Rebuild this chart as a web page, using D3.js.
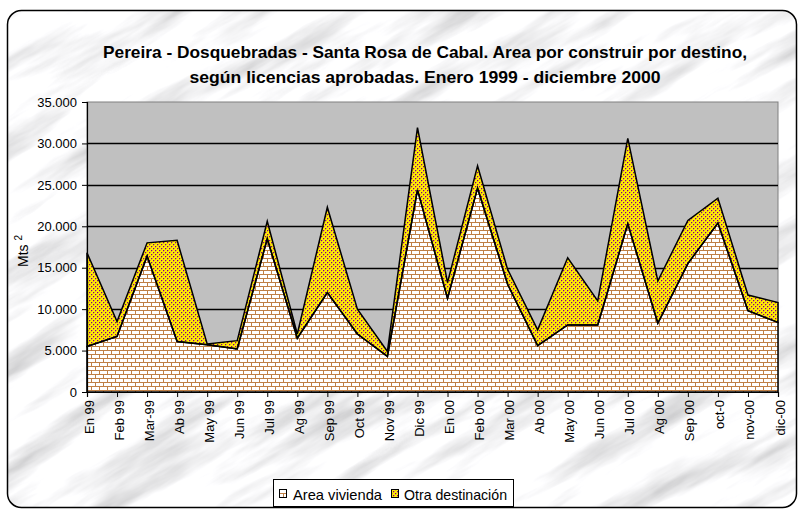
<!DOCTYPE html>
<html><head><meta charset="utf-8">
<script src="https://cdn.jsdelivr.net/npm/d3@7"></script>
<style>
html,body{margin:0;padding:0;background:#fff;}
svg{display:block;font-family:"Liberation Sans",Arial,sans-serif;}
</style></head>
<body><svg id="c" width="801" height="512"></svg>
<script>
const months = ["En 99","Feb 99","Mar-99","Ab 99","May 99","Jun 99","Jul 99","Ag 99","Sep 99","Oct 99","Nov 99","Dic 99",
                "En 00","Feb 00","Mar 00","Ab 00","May 00","Jun 00","Jul 00","Ag 00","Sep 00","oct-0","nov-00","dic-00"];
const vivienda = [5500,6700,16400,6100,5700,5200,18500,6500,12000,7000,4300,24400,11300,24600,13000,5600,8100,8100,20300,8300,15500,20400,9800,8400];
const otra     = [11300,1800,1600,12200,100,1000,2100,500,10300,3000,600,7500,1900,2700,1800,1900,8100,2900,10300,5100,5200,3000,1900,2400];
const yTicks = [0,5000,10000,15000,20000,25000,30000,35000];
const seriesNames = ["Area vivienda","Otra destinación"];
const titleLines = ["Pereira - Dosquebradas - Santa Rosa de Cabal. Area por construir por destino,",
                    "según licencias aprobadas. Enero 1999 - diciembre 2000"];

const svg = d3.select("#c");
const defs = svg.append("defs");

// texture helpers (drawn as crisp pixels, clipped by a shape)
function brickTexture(g, x0, y0, x1, y1) {
  g.append("rect").attr("x",x0).attr("y",y0).attr("width",x1-x0).attr("height",y1-y0).attr("fill","#ffffff");
  let p = "";
  let k = 0;
  for (let yy = y0; yy < y1; yy += 4, k++) {
    p += `M${x0},${yy+0.5}H${x1}`;
    for (let xx = x0 + (k%2)*4; xx < x1; xx += 8) p += `M${xx+0.5},${yy}V${yy+4}`;
  }
  g.append("path").attr("d",p).attr("stroke","#bf7f45").attr("stroke-width",1)
    .attr("fill","none").attr("shape-rendering","crispEdges");
}
function dotTexture(g, x0, y0, x1, y1) {
  g.append("rect").attr("x",x0).attr("y",y0).attr("width",x1-x0).attr("height",y1-y0).attr("fill","#ffee00");
  let p = "", q = "";
  for (let yy = y0; yy < y1; yy += 2) {
    const r = (yy - y0) / 2;
    for (let xx = x0 + (r%2)*2; xx < x1; xx += 4) {
      p += `M${xx},${yy}h1v1h-1z`;
      q += `M${xx+1},${yy}h1v1h-1zM${xx},${yy+1}h1v1h-1z`;
    }
  }
  g.append("path").attr("d",q).attr("fill","#e0a030").attr("shape-rendering","crispEdges");
  g.append("path").attr("d",p).attr("fill","#800080").attr("shape-rendering","crispEdges");
}

// marble texture
const f = defs.append("filter").attr("id","marble").attr("x",0).attr("y",0).attr("width",1).attr("height",1);
f.append("feTurbulence").attr("type","fractalNoise").attr("baseFrequency","0.006 0.035").attr("numOctaves",5).attr("seed",11).attr("result","n");
f.append("feColorMatrix").attr("in","n").attr("type","matrix")
 .attr("values","1.0 0 0 0 0.47  1.0 0 0 0 0.47  1.0 0 0 0 0.48  0 0 0 0 1");
defs.append("clipPath").attr("id","card").append("rect")
  .attr("x",7.5).attr("y",10.5).attr("width",789).attr("height",497).attr("rx",14);

// card background
const bg = svg.append("g").attr("clip-path","url(#card)");
bg.append("rect").attr("x",0).attr("y",0).attr("width",801).attr("height",512).attr("fill","#eeeeee");
bg.append("g").attr("transform","rotate(-30 400 256)")
  .append("rect").attr("x",-300).attr("y",-300).attr("width",1400).attr("height",1100).attr("filter","url(#marble)");
svg.append("rect").attr("x",7.5).attr("y",10.5).attr("width",789).attr("height",497).attr("rx",14)
  .attr("fill","none").attr("stroke","#000").attr("stroke-width",1.5);

// title
svg.append("g").selectAll("text").data(titleLines).join("text")
  .attr("x",425).attr("y",(d,i)=>58+i*25).attr("text-anchor","middle")
  .attr("font-size",17).attr("font-weight","bold").attr("fill","#000")
  .attr("textLength",(d,i)=>i===0?644:471).attr("lengthAdjust","spacingAndGlyphs")
  .text(d=>d);

const L=87, R=778, T=102, B=392;
const x = d3.scalePoint().domain(months).range([L,R]);
const y = d3.scaleLinear().domain([0,35000]).range([B,T]);

// plot area
svg.append("rect").attr("x",L).attr("y",T).attr("width",R-L).attr("height",B-T)
  .attr("fill","#c0c0c0").attr("stroke","#808080").attr("stroke-width",1);
svg.append("g").selectAll("line").data(yTicks.filter(v=>v>0&&v<35000)).join("line")
  .attr("x1",L).attr("x2",R).attr("y1",d=>Math.round(y(d))+0.5).attr("y2",d=>Math.round(y(d))+0.5)
  .attr("stroke","#000").attr("stroke-width",1.3);

// stacked areas
const rows = months.map((m,i)=>({m, a:vivienda[i], b:otra[i]}));
const stack = d3.stack().keys(["a","b"])(rows);
const area = d3.area().x(d=>x(d.data.m)).y0(d=>y(d[0])).y1(d=>y(d[1]));
stack.forEach((s,i)=>{
  defs.append("clipPath").attr("id","clipS"+i).append("path").attr("d",area(s));
  const g = svg.append("g").attr("clip-path",`url(#clipS${i})`);
  if (i===0) brickTexture(g, L, T, R+1, B+1); else dotTexture(g, L, T, R+1, B+1);
});
svg.append("g").selectAll("path").data(stack).join("path")
  .attr("d",area).attr("fill","none")
  .attr("stroke","#000").attr("stroke-width",1.5).attr("stroke-linejoin","miter");

// axes
const fmt = d3.formatLocale({decimal:",",thousands:".",grouping:[3],currency:["",""]}).format(",");
const ya = svg.append("g").attr("transform",`translate(${L},0)`)
  .call(d3.axisLeft(y).tickValues(yTicks).tickFormat(fmt).tickSize(5).tickPadding(5));
ya.select(".domain").attr("stroke","#000").attr("stroke-width",1.2);
ya.selectAll(".tick line").attr("stroke","#000");
ya.selectAll("text").attr("font-size",13).attr("fill","#000").attr("font-family","Liberation Sans, Arial, sans-serif");

const xa = svg.append("g").attr("transform",`translate(0,${B})`)
  .call(d3.axisBottom(x).tickSize(5).tickFormat(""));
xa.select(".domain").attr("stroke","#000").attr("stroke-width",1.2);
xa.selectAll(".tick line").attr("stroke","#000");
svg.append("g").selectAll("text").data(months).join("text")
  .attr("transform",d=>`translate(${x(d)+6.5},${B+8}) rotate(-90)`)
  .attr("text-anchor","end").attr("font-size",13).attr("fill","#000").text(d=>d);

// y axis title
const yt = svg.append("text").attr("transform","translate(28,251) rotate(-90)")
  .attr("text-anchor","middle").attr("font-size",14).attr("fill","#000");
yt.append("tspan").text("Mts ");
yt.append("tspan").attr("font-size",10).attr("dy",-6).text("2");

// legend
const lg = svg.append("g");
lg.append("rect").attr("x",273.5).attr("y",479.5).attr("width",240).attr("height",27)
  .attr("fill","#fff").attr("stroke","#000").attr("stroke-width",1);
const items = [{n:seriesNames[0],sx:279,tx:293,tl:89},{n:seriesNames[1],sx:391,tx:404,tl:103}];
items.forEach((it,i)=>{
  defs.append("clipPath").attr("id","clipL"+i).append("rect")
    .attr("x",it.sx).attr("y",489).attr("width",8).attr("height",9);
  const g = lg.append("g").attr("clip-path",`url(#clipL${i})`);
  if (i===0) brickTexture(g, it.sx, 489, it.sx+8, 498); else dotTexture(g, it.sx, 489, it.sx+8, 498);
  lg.append("rect").attr("x",it.sx+0.5).attr("y",489.5).attr("width",7).attr("height",8)
    .attr("fill","none").attr("stroke","#000").attr("stroke-width",1);
  lg.append("text").attr("x",it.tx).attr("y",500).attr("font-size",15).attr("fill","#000")
    .attr("textLength",it.tl).attr("lengthAdjust","spacingAndGlyphs").text(it.n);
});
</script></body></html>
